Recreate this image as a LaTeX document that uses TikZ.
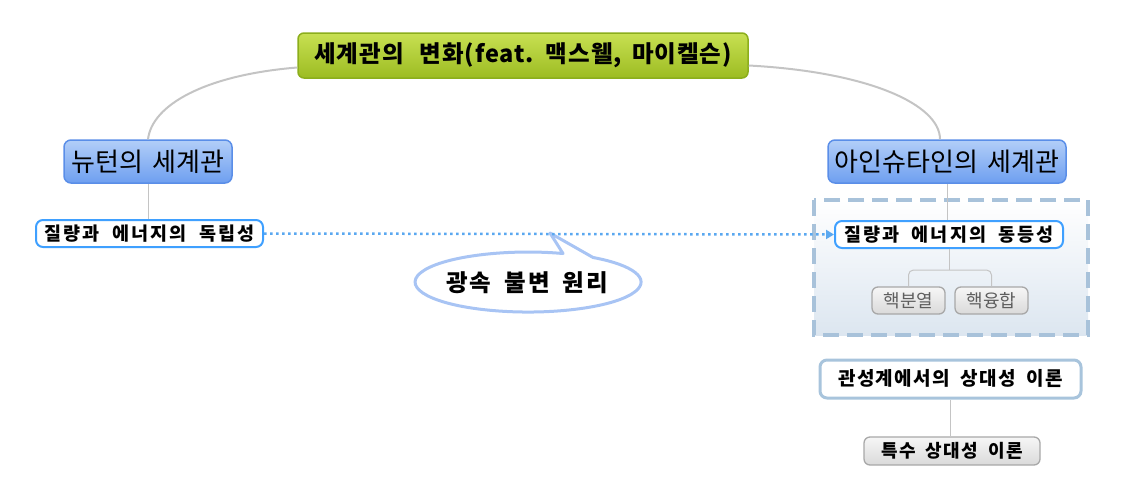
\documentclass[tikz,border=0pt]{standalone}
\usepackage{fontspec}
\setmainfont{Noto Sans CJK KR}
\newfontfamily\krroot{Noto Sans CJK KR}[LetterSpace=4, WordSpace=1.6]
\newfontfamily\krmain{Noto Sans CJK KR}[WordSpace=1.6]
\newfontfamily\krsub{Noto Sans CJK KR}[LetterSpace=11, WordSpace=2]
\newfontfamily\krcall{Noto Sans CJK KR}[LetterSpace=9, WordSpace=1.7]
\newfontfamily\krbox{Noto Sans CJK KR}[LetterSpace=7, WordSpace=1.9]
\usetikzlibrary{arrows.meta}
\definecolor{rootTop}{HTML}{C8E052}
\definecolor{rootBot}{HTML}{9CBC22}
\definecolor{rootLine}{HTML}{8CAE1C}
\definecolor{blueTop}{HTML}{B2CEF8}
\definecolor{blueBot}{HTML}{6E9FF0}
\definecolor{blueLine}{HTML}{5A8EE8}
\definecolor{subLine}{HTML}{3FA0FF}
\definecolor{calloutLine}{HTML}{A8C4F4}
\definecolor{groupLine}{HTML}{A8C2DA}
\definecolor{groupBot}{HTML}{DCE6F0}
\definecolor{grayTop}{HTML}{F6F6F6}
\definecolor{grayBot}{HTML}{DADADA}
\definecolor{grayLine}{HTML}{A8A8A8}
\definecolor{grayText}{HTML}{5E5E5E}
\definecolor{connGray}{HTML}{C4C4C4}
\definecolor{dotBlue}{HTML}{5AA8F0}
\definecolor{boxLine}{HTML}{A8C4DC}
\tikzset{
  rootbox/.style={draw=rootLine, line width=1.5pt, rounded corners=6pt, top color=rootTop, bottom color=rootBot,
    minimum width=450pt, minimum height=45pt, inner sep=0pt, font=\krroot\bfseries\fontsize{23.5}{25}\selectfont},
  mainbox/.style={draw=blueLine, line width=1.5pt, rounded corners=7pt, top color=blueTop, bottom color=blueBot,
    minimum height=43pt, inner sep=0pt, font=\krmain\fontsize{26}{28}\selectfont},
  subbox/.style={draw=subLine, line width=2pt, rounded corners=7pt, fill=white,
    minimum height=27pt, inner sep=0pt, font=\krsub\bfseries\fontsize{18.5}{20}\selectfont},
  graybox/.style={draw=grayLine, line width=1.3pt, rounded corners=6pt, top color=grayTop, bottom color=grayBot,
    minimum height=27pt, inner sep=0pt},
  conn/.style={draw=connGray, line width=1pt},
  bigconn/.style={draw=connGray, line width=2pt},
}
\begin{document}
\begin{tikzpicture}[x=1pt,y=-1pt]
\useasboundingbox (0,0) rectangle (1123,498);
% group box
\path[draw=groupLine, line width=4pt, dash pattern=on 16pt off 8pt, top color=white, bottom color=groupBot]
  (814,200) rectangle (1088,335);
% nodes
\node[rootbox] (root) at (523,55.5) {세계관의\hspace{6pt} 변화(feat. 맥스웰, 마이켈슨)};
\node[mainbox, minimum width=168pt] (newton) at (148,161.5) {뉴턴의 세계관};
\node[mainbox, minimum width=238pt] (einstein) at (947,161.5) {아인슈타인의 세계관};
\node[subbox, minimum width=227pt] (indep) at (149.5,233.5) {질량과 에너지의 독립성};
\node[subbox, minimum width=228pt] (equiv) at (949,234.5) {질량과 에너지의 동등성};
\node[graybox, minimum width=73pt, font=\fontsize{18}{20}\selectfont, text=grayText] (fis) at (908.5,300.5) {핵분열};
\node[graybox, minimum width=73pt, font=\fontsize{18}{20}\selectfont, text=grayText] (fus) at (991.5,300.5) {핵융합};
\node[draw=boxLine, line width=3pt, rounded corners=7pt, fill=white, minimum width=261pt, minimum height=38pt, inner sep=0pt,
  font=\krbox\bfseries\fontsize{19}{21}\selectfont] (inert) at (950.5,379) {관성계에서의 상대성 이론};
\node[graybox, minimum width=176pt, minimum height=28pt, font=\krbox\bfseries\fontsize{18}{20}\selectfont] (special) at (952,451) {특수 상대성 이론};
% callout
\coordinate (tip) at (550,233);
\path[draw=calloutLine, line width=3pt, fill=white, line join=round]
  (tip) -- (563,253.5) arc[start angle=72, end angle=414.9, x radius=113pt, y radius=30pt] -- cycle;
\node[font=\krcall\bfseries\fontsize{23.5}{25}\selectfont, inner sep=0pt] (callout) at (527,283) {광속 불변 원리};
% connectors
\draw[bigconn] ([yshift=-12pt]root.west) .. controls (205,75) and (152,105) .. (newton.north);
\draw[bigconn] ([yshift=-10pt]root.east) .. controls (870,72) and (940,105) .. ([xshift=-7pt]einstein.north);
\draw[conn] (newton.south) -- (newton.south |- indep.north);
\draw[conn] (einstein.south) -- (einstein.south |- equiv.north);
\coordinate (br) at (949,270);
\draw[conn] (equiv.south) -- (br);
\draw[conn, rounded corners=5pt] (fis.north) -- (fis.north |- br) -- (fus.north |- br) -- (fus.north);
\draw[conn] (inert.south) -- (inert.south |- special.north);
\draw[dotBlue, line width=2.5pt, dash pattern=on 2.5pt off 3.5pt, -{Triangle[width=9pt,length=8pt]}] (indep.east) -- (equiv.west);
\end{tikzpicture}
\end{document}
